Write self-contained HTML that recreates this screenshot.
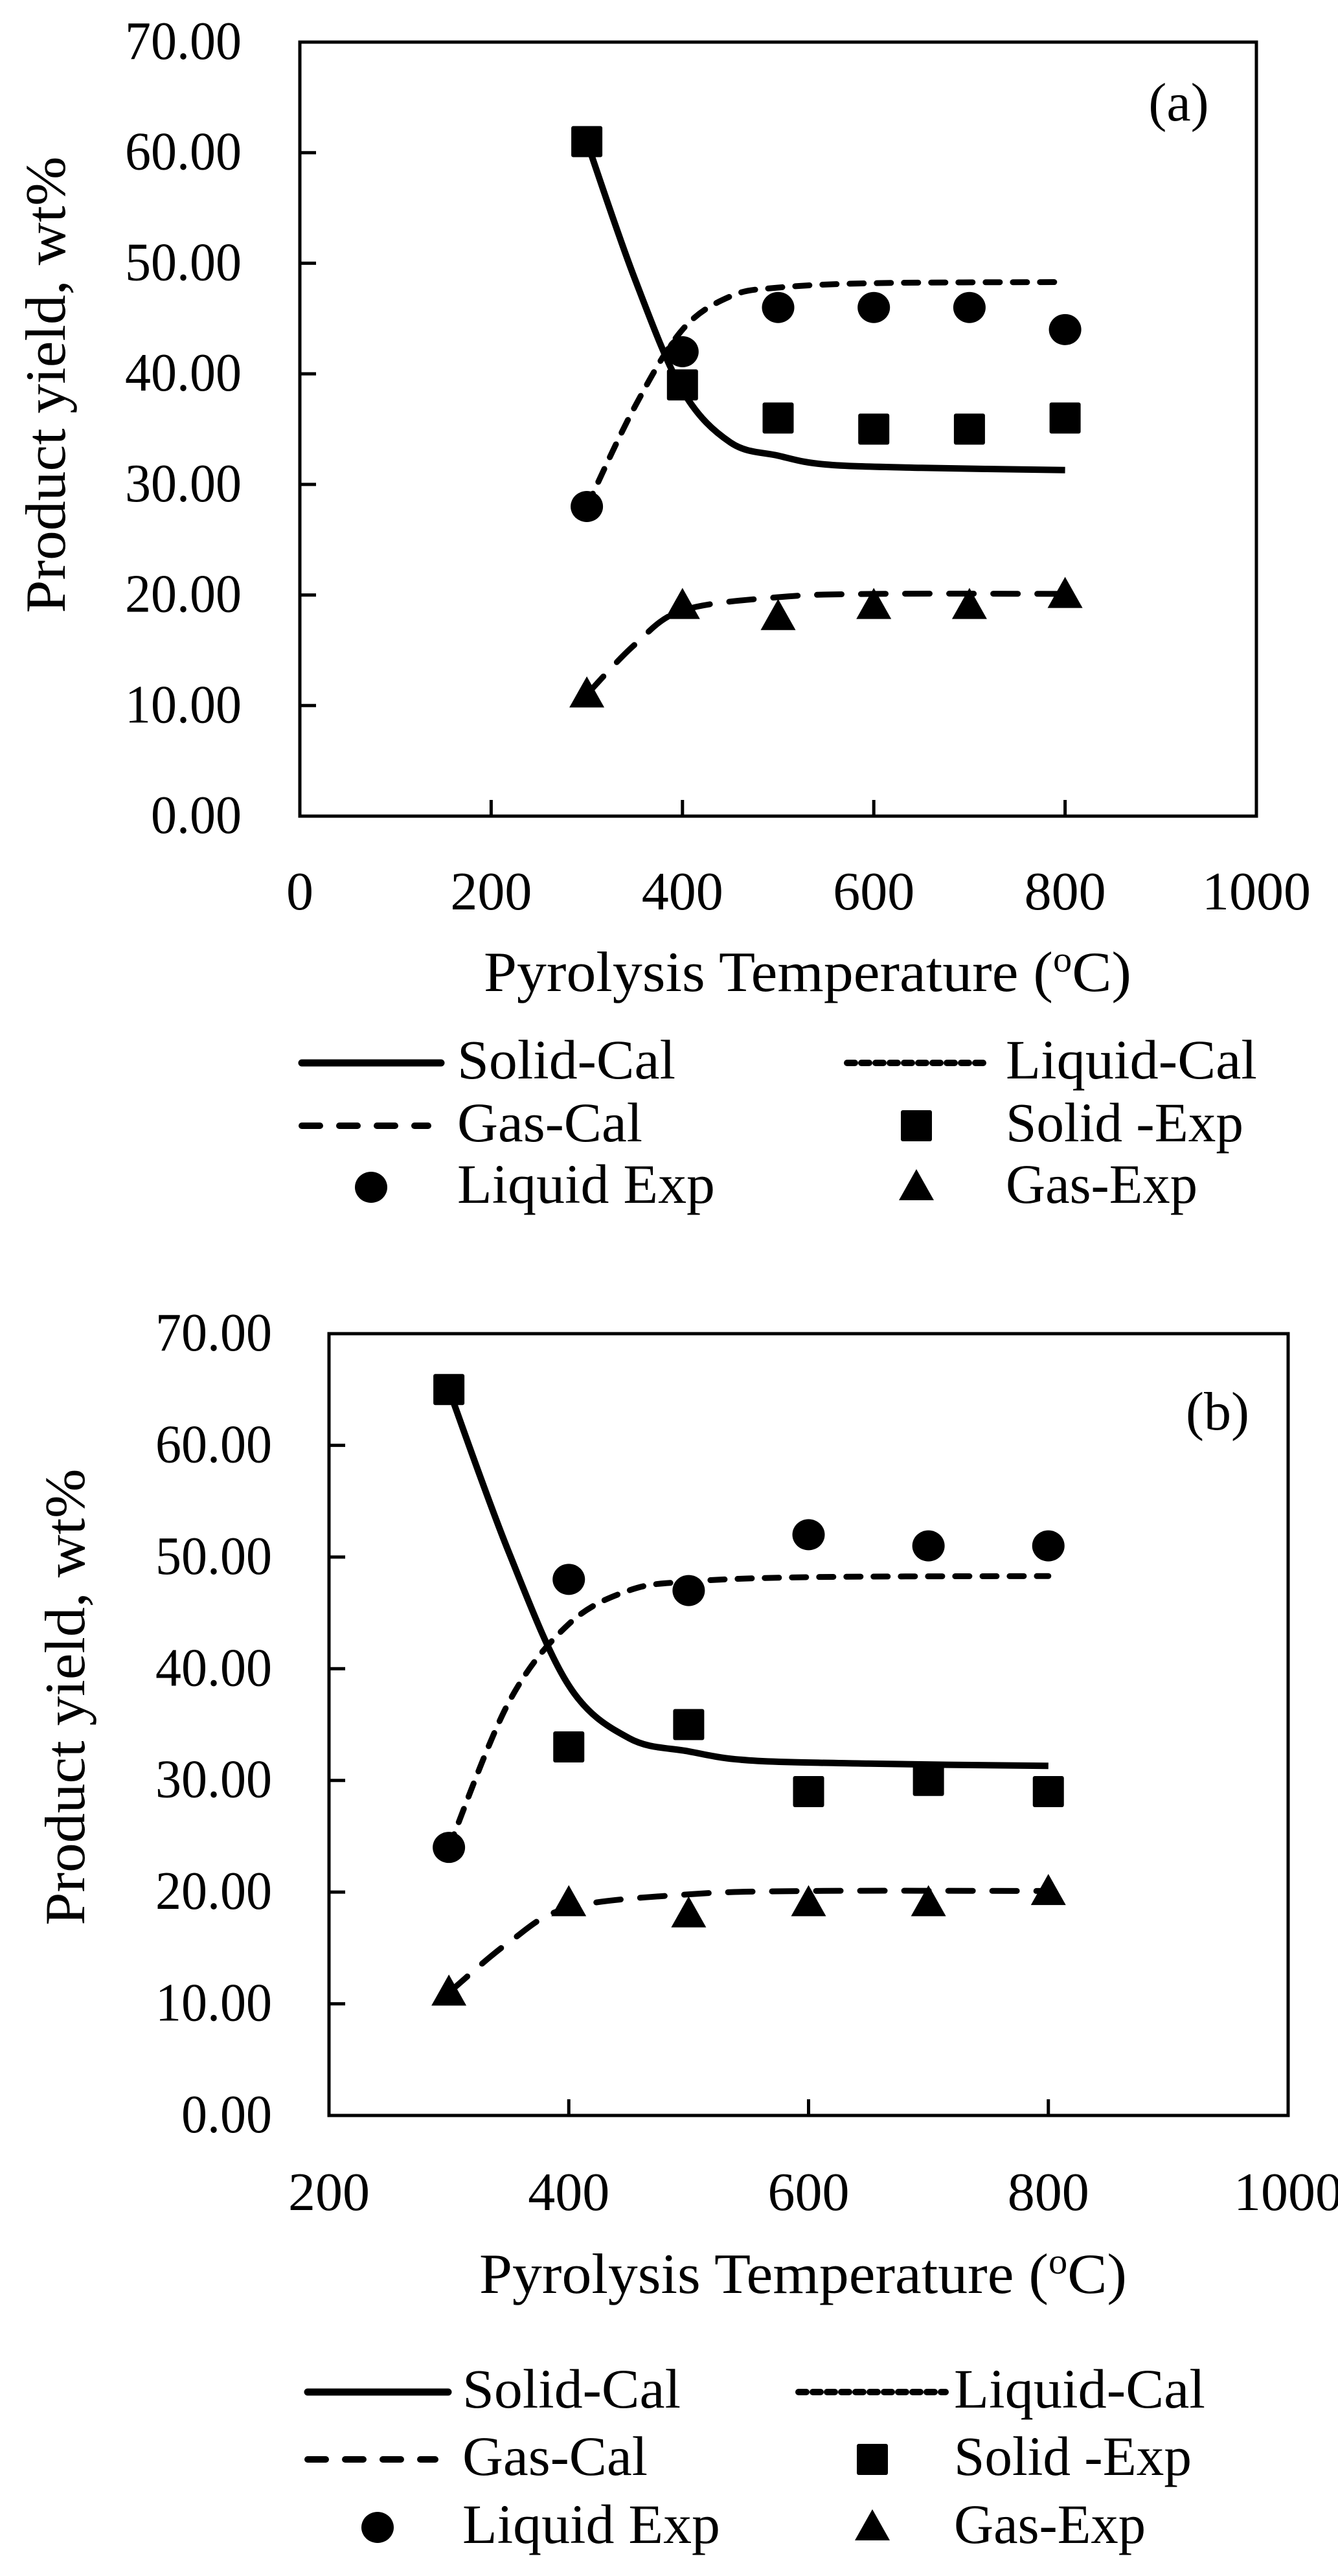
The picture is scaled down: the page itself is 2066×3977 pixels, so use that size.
<!DOCTYPE html>
<html><head><meta charset="utf-8"><style>
html,body{margin:0;padding:0;background:#fff;}
svg{display:block;}
text{font-family:"Liberation Serif",serif;fill:#000;}
</style></head><body>
<svg id="s" width="2066" height="3977" viewBox="0 0 2066 3977" xmlns="http://www.w3.org/2000/svg"></svg>
<script>
const S=document.getElementById('s');let h='';
function cr(pts){let d='M'+pts[0][0].toFixed(1)+','+pts[0][1].toFixed(1);
for(let i=0;i<pts.length-1;i++){const p0=pts[i-1]||pts[i],p1=pts[i],p2=pts[i+1],p3=pts[i+2]||p2;
const c1=[p1[0]+(p2[0]-p0[0])/6,p1[1]+(p2[1]-p0[1])/6],c2=[p2[0]-(p3[0]-p1[0])/6,p2[1]-(p3[1]-p1[1])/6];
d+=' C'+c1.map(v=>v.toFixed(1))+' '+c2.map(v=>v.toFixed(1))+' '+p2.map(v=>v.toFixed(1));}return d;}
function panel(o){
const X=v=>o.L+(v-o.x0)*(o.R-o.L)/(1000-o.x0), Y=v=>o.B-v*(o.B-o.T)/70;
h+=`<rect x="${o.L}" y="${o.T}" width="${o.R-o.L}" height="${o.B-o.T}" fill="none" stroke="#000" stroke-width="5"/>`;
for(let v=0;v<=70;v+=10){h+=`<line x1="${o.L}" x2="${o.L+25}" y1="${Y(v)}" y2="${Y(v)}" stroke="#000" stroke-width="5"/>`;
const w=v===0?140:180;
h+=`<text x="${o.yl}" y="${Y(v)+26}" font-size="84" text-anchor="end" textLength="${w}" lengthAdjust="spacingAndGlyphs">${v.toFixed(2)}</text>`;}
for(let v=o.x0;v<=1000;v+=200){h+=`<line x1="${X(v)}" x2="${X(v)}" y1="${o.B}" y2="${o.B-25}" stroke="#000" stroke-width="5"/>`;
h+=`<text x="${X(v)}" y="${o.xl}" font-size="84" text-anchor="middle">${v}</text>`;}
h+=`<text x="${o.tx}" y="${o.ty}" font-size="88" text-anchor="middle" textLength="1000" lengthAdjust="spacingAndGlyphs">Pyrolysis Temperature (<tspan font-size="56" dy="-30">o</tspan><tspan dy="30">C)</tspan></text>`;
h+=`<text transform="translate(${o.yx},${o.yy}) rotate(-90)" font-size="88" text-anchor="middle" textLength="705" lengthAdjust="spacingAndGlyphs">Product yield, wt%</text>`;
h+=`<text x="${o.lx}" y="${o.ly}" font-size="84" text-anchor="middle">${o.lab}</text>`;
const sol=[[300,o.s0],[350,o.s0-(o.s0-38.5)*0.55],[400,38.5],[450,33.8],[500,32.6],[550,31.8],[650,31.5],[800,31.3]];
const liq=[[300,o.l0],[350,37],[400,44],[450,47],[500,47.8],[600,48.2],[800,48.3]];
const gas=[[300,11],[350,15.5],[400,18.6],[500,19.8],[600,20.1],[800,20.1]];
const P=a=>a.map(p=>[X(p[0]),Y(p[1])]);
h+=`<path d="${cr(P(sol))}" fill="none" stroke="#000" stroke-width="10"/>`;
h+=`<path d="${cr(P(liq))}" fill="none" stroke="#000" stroke-width="9" stroke-dasharray="22 20" stroke-linecap="round"/>`;
h+=`<path d="${cr(P(gas))}" fill="none" stroke="#000" stroke-width="9" stroke-dasharray="38 30" stroke-linecap="round"/>`;
const xs=[300,400,500,600,700,800];
xs.forEach((x,i)=>{const cx=X(x);
h+=sq(cx,Y(o.se[i]));h+=ci(cx,Y(o.le[i]));h+=tr(cx,Y(o.ge[i]));});
const g=o.g;
h+=`<line x1="${g.a1}" x2="${g.a2}" y1="${g.r[0]}" y2="${g.r[0]}" stroke="#000" stroke-width="11" stroke-linecap="round"/>`;
h+=`<line x1="${g.b1}" x2="${g.b2}" y1="${g.r[0]}" y2="${g.r[0]}" stroke="#000" stroke-width="10" stroke-dasharray="12 10" stroke-linecap="round"/>`;
h+=`<line x1="${g.a1}" x2="${g.a2-20}" y1="${g.r[1]}" y2="${g.r[1]}" stroke="#000" stroke-width="10" stroke-dasharray="28 30" stroke-linecap="round"/>`;
h+=sq(g.m2,g.r[1]);h+=ci(g.m1,g.r[2]);h+=tr(g.m2,g.r[2]);
const T=(x,y,t,w)=>`<text x="${x}" y="${y+24}" font-size="86" textLength="${w}" lengthAdjust="spacingAndGlyphs">${t}</text>`;
h+=T(g.t1,g.r[0],'Solid-Cal',337)+T(g.t2,g.r[0],'Liquid-Cal',388)+T(g.t1,g.r[1],'Gas-Cal',286)+T(g.t2,g.r[1],'Solid -Exp',367)+T(g.t1,g.r[2],'Liquid Exp',398)+T(g.t2,g.r[2],'Gas-Exp',296);
}
function sq(x,y){return `<rect x="${x-24}" y="${y-24}" width="48" height="48" rx="3" fill="#000"/>`;}
function ci(x,y){return `<ellipse cx="${x}" cy="${y}" rx="25" ry="24" fill="#000"/>`;}
function tr(x,y){return `<polygon points="${x},${y-28} ${x+27},${y+20} ${x-27},${y+20}" fill="#000"/>`;}
panel({L:463,R:1940,T:65,B:1260,x0:0,yl:373,xl:1404,tx:1247,ty:1530,yx:100,yy:594,lx:1820,ly:186,lab:'(a)',
s0:61,l0:28,se:[61,39,36,35,35,36],le:[28,42,46,46,46,44],ge:[11,19,18,19,19,20],
g:{r:[1641,1738,1833],a1:466,a2:681,b1:1308,b2:1522,t1:706,t2:1553,m1:573,m2:1415}});
panel({L:508,R:1989,T:2059,B:3266,x0:200,yl:420,xl:3412,tx:1240,ty:3540,yx:130,yy:2620,lx:1880,ly:2207,lab:'(b)',
s0:65,l0:24,se:[65,33,35,29,30,29],le:[24,48,47,52,51,51],ge:[11,19,18,19,19,20],
g:{r:[3693,3797,3902],a1:475,a2:692,b1:1233,b2:1460,t1:714,t2:1473,m1:583,m2:1347}});
S.innerHTML=h;
</script>
</body></html>
